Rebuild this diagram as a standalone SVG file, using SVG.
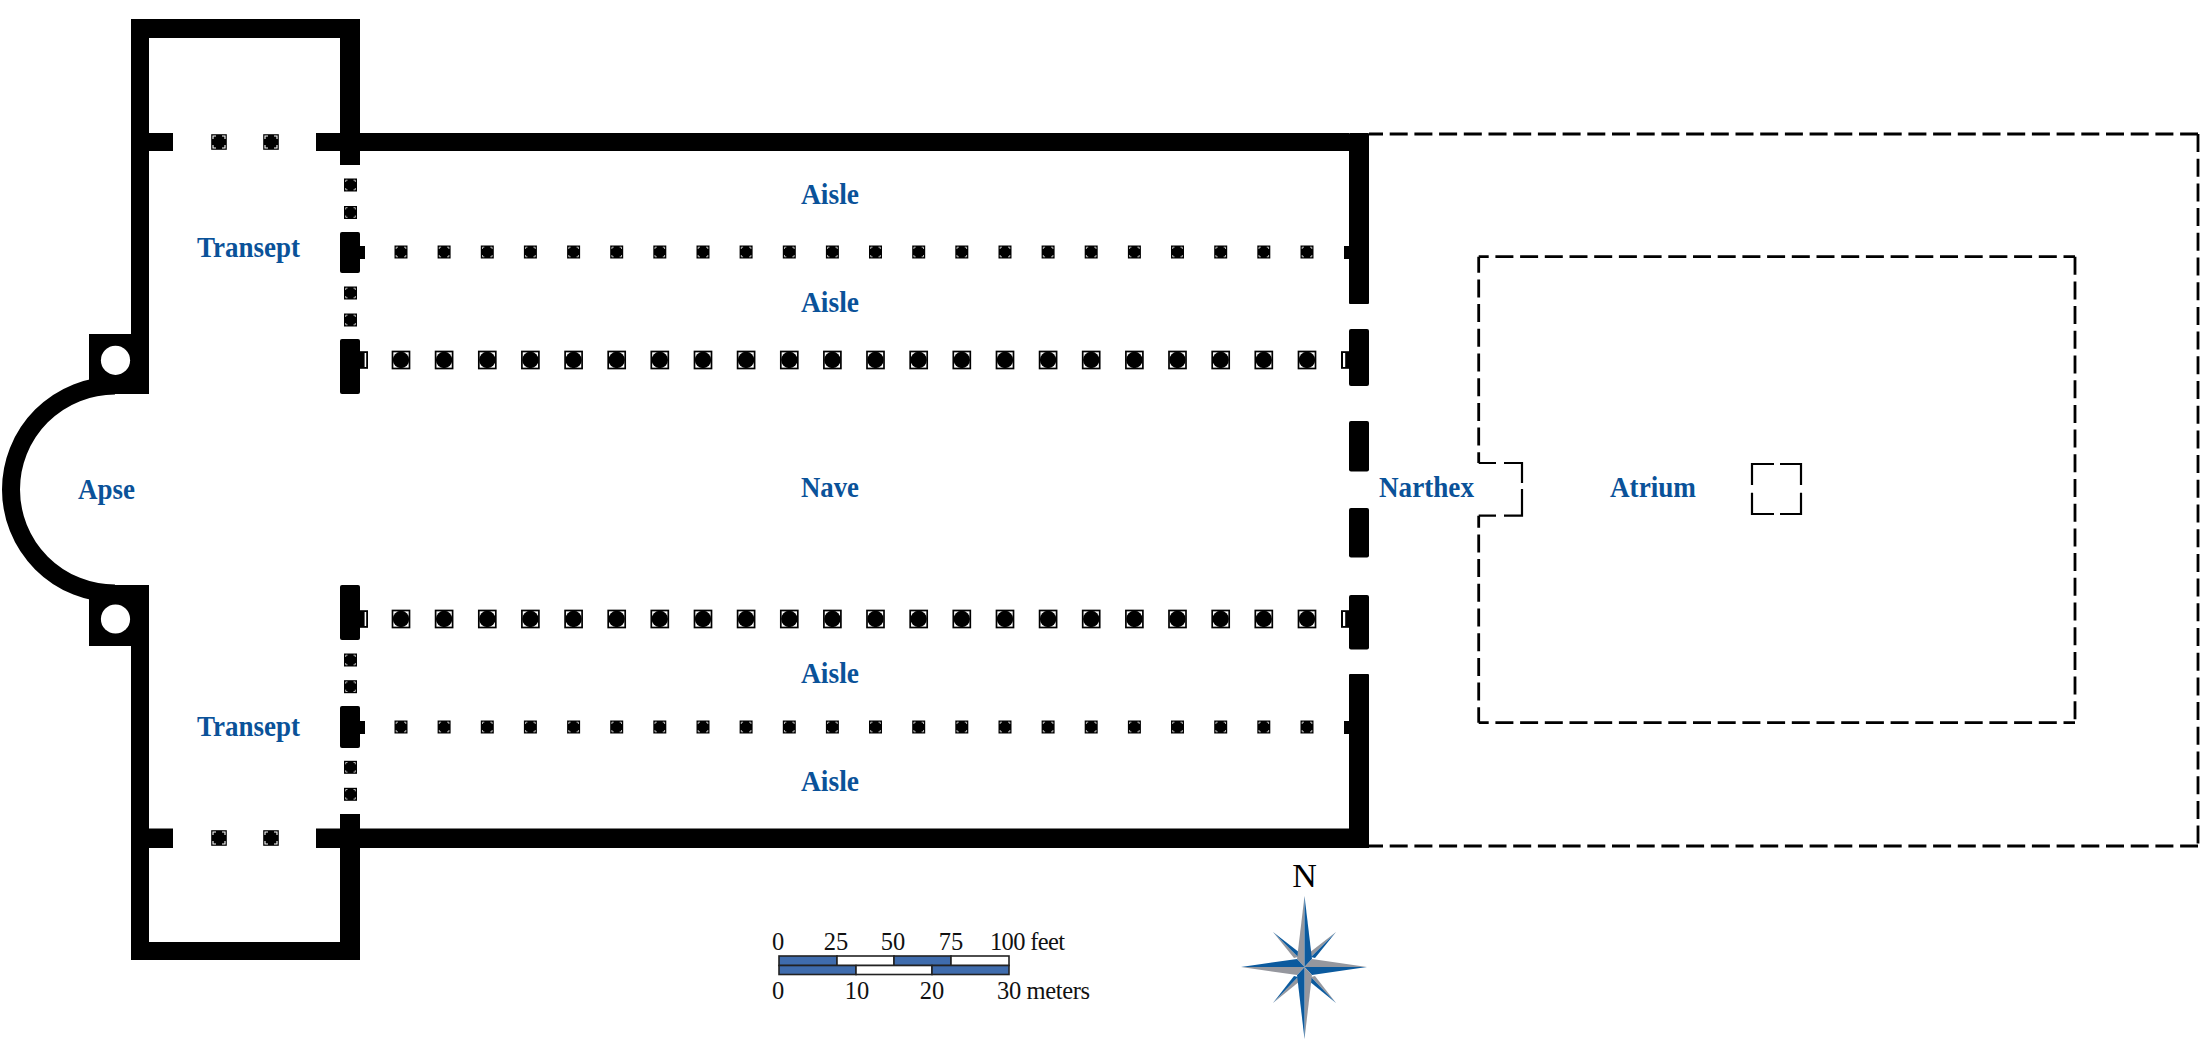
<svg xmlns="http://www.w3.org/2000/svg" width="2200" height="1039" viewBox="0 0 2200 1039">
<style>
.w{fill:#000}
.lbl{font-family:"Liberation Serif","Times New Roman",serif;font-weight:700;font-size:29px;fill:#0a5299}
.sc{font-family:"Liberation Serif","Times New Roman",serif;font-size:24.5px;fill:#111}
.d{fill:none;stroke:#000;stroke-width:2.8;stroke-dasharray:18 6.7}
.s{fill:none;stroke:#000;stroke-width:2.2}
.b{fill:#0b5a9e}
.g{fill:#95979e}
.sb{fill:#3f6cad;stroke:#222;stroke-width:1.6}
.sw{fill:#fff;stroke:#222;stroke-width:1.6}
</style>
<defs>
<g id="small"><rect x="-6.5" y="-6.5" width="13" height="13" fill="#000"/><path d="M-4.8-3V-4.8H-3M3-4.8H4.8V-3M4.8 3V4.8H3M-3 4.8H-4.8V3" fill="none" stroke="#fff" stroke-width=".7"/></g>
<g id="mid"><rect x="-7.8" y="-7.8" width="15.6" height="15.6" fill="#000"/><path d="M-6-3V-6H-3M3-6H6V-3M6 3V6H3M-3 6H-6V3" fill="none" stroke="#fff" stroke-width="1.1"/></g>
<g id="large"><rect x="-8.5" y="-8.5" width="17" height="17" fill="#fff" stroke="#000" stroke-width="1.7"/><circle r="8.2" fill="#000"/></g>
</defs>
<rect width="2200" height="1039" fill="#fff"/>

<g id="dashed-walls">
<path class="d" stroke-dashoffset="4" d="M1369 134H2198"/>
<path class="d" d="M2198 134V846"/>
<path class="d" stroke-dashoffset="4" d="M1369 846H2198"/>
<path class="d" stroke-dashoffset="8" d="M1478.7 256.7H2075"/>
<path class="d" d="M2075 256.7V722.7"/>
<path class="d" stroke-dashoffset="8" d="M1478.7 722.7H2075"/>
<path class="d" stroke-dashoffset="2" d="M1478.7 256.7V463"/>
<path class="d" stroke-dashoffset="6" d="M1478.7 515.7V722.7"/>
<path class="s" stroke-width="2.6" d="M1478.7 463H1496M1504 463H1522V483M1522 489V515.7H1504M1496 515.7H1478.7"/>
<path class="s" d="M1774 464H1752V485M1752 492.7V514H1774M1780 514H1801V492.7M1801 485V464H1780"/>
</g>

<g id="walls">
<rect class="w" x="131" y="19" width="229" height="19"/>
<rect class="w" x="131" y="19" width="18" height="315"/>
<rect class="w" x="340" y="19" width="20" height="146"/>
<rect class="w" x="149" y="133" width="24" height="18"/>
<rect class="w" x="316" y="133" width="24" height="18"/>
<rect class="w" x="360" y="133" width="989" height="18"/>
<path d="M115 385.5A104 104 0 0 0 115 593.5" fill="none" stroke="#000" stroke-width="18"/>
<rect class="w" x="89" y="334" width="60" height="60"/>
<rect class="w" x="89" y="585" width="60" height="61"/>
<circle cx="115.5" cy="360.3" r="14.6" fill="#fff"/>
<circle cx="115.5" cy="619" r="14.6" fill="#fff"/>
<rect class="w" x="131" y="646" width="18" height="314"/>
<rect class="w" x="131" y="942" width="229" height="18"/>
<rect class="w" x="340" y="814" width="20" height="146"/>
<rect class="w" x="149" y="828.5" width="24" height="19.5"/>
<rect class="w" x="316" y="828.5" width="24" height="19.5"/>
<rect class="w" x="360" y="828.5" width="1009" height="19.5"/>
<rect class="w" x="340" y="232" width="20" height="41" rx="2"/>
<rect class="w" x="360" y="246" width="5" height="13"/>
<rect class="w" x="340" y="339" width="20" height="55" rx="2"/>
<rect class="w" x="359" y="351.2" width="9" height="17.6"/>
<rect x="364.6" y="353" width="1.6" height="14" fill="#fff"/>
<rect class="w" x="340" y="585" width="20" height="55" rx="2"/>
<rect class="w" x="359" y="610.2" width="9" height="17.6"/>
<rect x="364.6" y="612" width="1.6" height="14" fill="#fff"/>
<rect class="w" x="340" y="706" width="20" height="42" rx="2"/>
<rect class="w" x="360" y="721" width="5" height="13"/>
<rect class="w" x="1349" y="133" width="20" height="171" rx="1"/>
<rect class="w" x="1349" y="329" width="20" height="57" rx="2"/>
<rect class="w" x="1349" y="421" width="20" height="50.5" rx="2"/>
<rect class="w" x="1349" y="508" width="20" height="49.5" rx="2"/>
<rect class="w" x="1349" y="595" width="20" height="54.5" rx="2"/>
<rect class="w" x="1349" y="674" width="20" height="174" rx="1"/>
<rect class="w" x="1344" y="246" width="5" height="13"/>
<rect class="w" x="1344" y="721" width="5" height="13"/>
<rect class="w" x="1341" y="351.2" width="9" height="17.6"/>
<rect x="1343" y="353" width="2.2" height="14" fill="#fff"/>
<rect class="w" x="1341" y="610.2" width="9" height="17.6"/>
<rect x="1343" y="612" width="2.2" height="14" fill="#fff"/>
</g>

<g id="columns-transept">
<use href="#mid" x="219" y="142"/><use href="#mid" x="271" y="142"/>
<use href="#mid" x="219" y="838"/><use href="#mid" x="271" y="838"/>
<use href="#small" x="350.5" y="185"/><use href="#small" x="350.5" y="212.5"/>
<use href="#small" x="350.5" y="293"/><use href="#small" x="350.5" y="320"/>
<use href="#small" x="350.5" y="660"/><use href="#small" x="350.5" y="686.7"/>
<use href="#small" x="350.5" y="767.3"/><use href="#small" x="350.5" y="794.3"/>
</g>

<g id="columns-row-1">
<use href="#small" x="401" y="252"/><use href="#small" x="444.1" y="252"/><use href="#small" x="487.3" y="252"/><use href="#small" x="530.4" y="252"/><use href="#small" x="573.6" y="252"/><use href="#small" x="616.7" y="252"/><use href="#small" x="659.8" y="252"/><use href="#small" x="703" y="252"/><use href="#small" x="746.1" y="252"/><use href="#small" x="789.3" y="252"/><use href="#small" x="832.4" y="252"/><use href="#small" x="875.5" y="252"/><use href="#small" x="918.7" y="252"/><use href="#small" x="961.8" y="252"/><use href="#small" x="1005" y="252"/><use href="#small" x="1048.1" y="252"/><use href="#small" x="1091.2" y="252"/><use href="#small" x="1134.4" y="252"/><use href="#small" x="1177.5" y="252"/><use href="#small" x="1220.7" y="252"/><use href="#small" x="1263.8" y="252"/><use href="#small" x="1307" y="252"/>
</g>
<g id="columns-row-2">
<use href="#large" x="401" y="360"/><use href="#large" x="444.1" y="360"/><use href="#large" x="487.3" y="360"/><use href="#large" x="530.4" y="360"/><use href="#large" x="573.6" y="360"/><use href="#large" x="616.7" y="360"/><use href="#large" x="659.8" y="360"/><use href="#large" x="703" y="360"/><use href="#large" x="746.1" y="360"/><use href="#large" x="789.3" y="360"/><use href="#large" x="832.4" y="360"/><use href="#large" x="875.5" y="360"/><use href="#large" x="918.7" y="360"/><use href="#large" x="961.8" y="360"/><use href="#large" x="1005" y="360"/><use href="#large" x="1048.1" y="360"/><use href="#large" x="1091.2" y="360"/><use href="#large" x="1134.4" y="360"/><use href="#large" x="1177.5" y="360"/><use href="#large" x="1220.7" y="360"/><use href="#large" x="1263.8" y="360"/><use href="#large" x="1307" y="360"/>
</g>
<g id="columns-row-3">
<use href="#large" x="401" y="619"/><use href="#large" x="444.1" y="619"/><use href="#large" x="487.3" y="619"/><use href="#large" x="530.4" y="619"/><use href="#large" x="573.6" y="619"/><use href="#large" x="616.7" y="619"/><use href="#large" x="659.8" y="619"/><use href="#large" x="703" y="619"/><use href="#large" x="746.1" y="619"/><use href="#large" x="789.3" y="619"/><use href="#large" x="832.4" y="619"/><use href="#large" x="875.5" y="619"/><use href="#large" x="918.7" y="619"/><use href="#large" x="961.8" y="619"/><use href="#large" x="1005" y="619"/><use href="#large" x="1048.1" y="619"/><use href="#large" x="1091.2" y="619"/><use href="#large" x="1134.4" y="619"/><use href="#large" x="1177.5" y="619"/><use href="#large" x="1220.7" y="619"/><use href="#large" x="1263.8" y="619"/><use href="#large" x="1307" y="619"/>
</g>
<g id="columns-row-4">
<use href="#small" x="401" y="727"/><use href="#small" x="444.1" y="727"/><use href="#small" x="487.3" y="727"/><use href="#small" x="530.4" y="727"/><use href="#small" x="573.6" y="727"/><use href="#small" x="616.7" y="727"/><use href="#small" x="659.8" y="727"/><use href="#small" x="703" y="727"/><use href="#small" x="746.1" y="727"/><use href="#small" x="789.3" y="727"/><use href="#small" x="832.4" y="727"/><use href="#small" x="875.5" y="727"/><use href="#small" x="918.7" y="727"/><use href="#small" x="961.8" y="727"/><use href="#small" x="1005" y="727"/><use href="#small" x="1048.1" y="727"/><use href="#small" x="1091.2" y="727"/><use href="#small" x="1134.4" y="727"/><use href="#small" x="1177.5" y="727"/><use href="#small" x="1220.7" y="727"/><use href="#small" x="1263.8" y="727"/><use href="#small" x="1307" y="727"/>
</g>

<g id="labels">
<text class="lbl" x="78" y="499" textLength="57" lengthAdjust="spacingAndGlyphs">Apse</text>
<text class="lbl" x="197" y="257" textLength="103" lengthAdjust="spacingAndGlyphs">Transept</text>
<text class="lbl" x="197" y="736" textLength="103" lengthAdjust="spacingAndGlyphs">Transept</text>
<text class="lbl" x="801" y="204" textLength="58" lengthAdjust="spacingAndGlyphs">Aisle</text>
<text class="lbl" x="801" y="312" textLength="58" lengthAdjust="spacingAndGlyphs">Aisle</text>
<text class="lbl" x="801" y="497" textLength="58" lengthAdjust="spacingAndGlyphs">Nave</text>
<text class="lbl" x="801" y="683" textLength="58" lengthAdjust="spacingAndGlyphs">Aisle</text>
<text class="lbl" x="801" y="791" textLength="58" lengthAdjust="spacingAndGlyphs">Aisle</text>
<text class="lbl" x="1379" y="497" textLength="95" lengthAdjust="spacingAndGlyphs">Narthex</text>
<text class="lbl" x="1610" y="497" textLength="86" lengthAdjust="spacingAndGlyphs">Atrium</text>
</g>

<g id="scale-bar">
<rect class="sb" x="779" y="956" width="58" height="9.5"/>
<rect class="sw" x="837" y="956" width="57" height="9.5"/>
<rect class="sb" x="894" y="956" width="57" height="9.5"/>
<rect class="sw" x="951" y="956" width="58" height="9.5"/>
<rect class="sb" x="779" y="965.5" width="77" height="9"/>
<rect class="sw" x="856" y="965.5" width="76" height="9"/>
<rect class="sb" x="932" y="965.5" width="77" height="9"/>
<g class="sc" text-anchor="middle">
<text x="778" y="950">0</text><text x="836" y="950">25</text><text x="893" y="950">50</text><text x="951" y="950">75</text>
<text x="778" y="999">0</text><text x="857" y="999">10</text><text x="932" y="999">20</text>
</g>
<text class="sc" x="990" y="950" textLength="75">100 feet</text>
<text class="sc" x="997" y="999" textLength="93">30 meters</text>
</g>

<g id="compass">
<text x="1304.5" y="887" text-anchor="middle" font-family="'Liberation Serif','Times New Roman',serif" font-size="34" fill="#000">N</text>
<path class="g" d="M1273 932L1298 957L1294 958Z"/>
<path class="b" d="M1273 932L1298 957L1300 953Z"/>
<path class="g" d="M1336 932L1311 957L1309 953Z"/>
<path class="b" d="M1336 932L1311 957L1315 958Z"/>
<path class="g" d="M1336 1003L1311 977L1315 976Z"/>
<path class="b" d="M1336 1003L1311 977L1309 981Z"/>
<path class="g" d="M1273 1003L1298 977L1300 981Z"/>
<path class="b" d="M1273 1003L1298 977L1294 976Z"/>
<path class="g" d="M1304.5 896L1304.5 967L1297 959Z"/>
<path class="b" d="M1304.5 896L1304.5 967L1312 959Z"/>
<path class="g" d="M1367 967L1304.5 967L1312 959Z"/>
<path class="b" d="M1367 967L1304.5 967L1312 975Z"/>
<path class="g" d="M1304.5 1039L1304.5 967L1312 975Z"/>
<path class="b" d="M1304.5 1039L1304.5 967L1297 975Z"/>
<path class="g" d="M1241 967L1304.5 967L1297 975Z"/>
<path class="b" d="M1241 967L1304.5 967L1297 959Z"/>
</g>
</svg>
